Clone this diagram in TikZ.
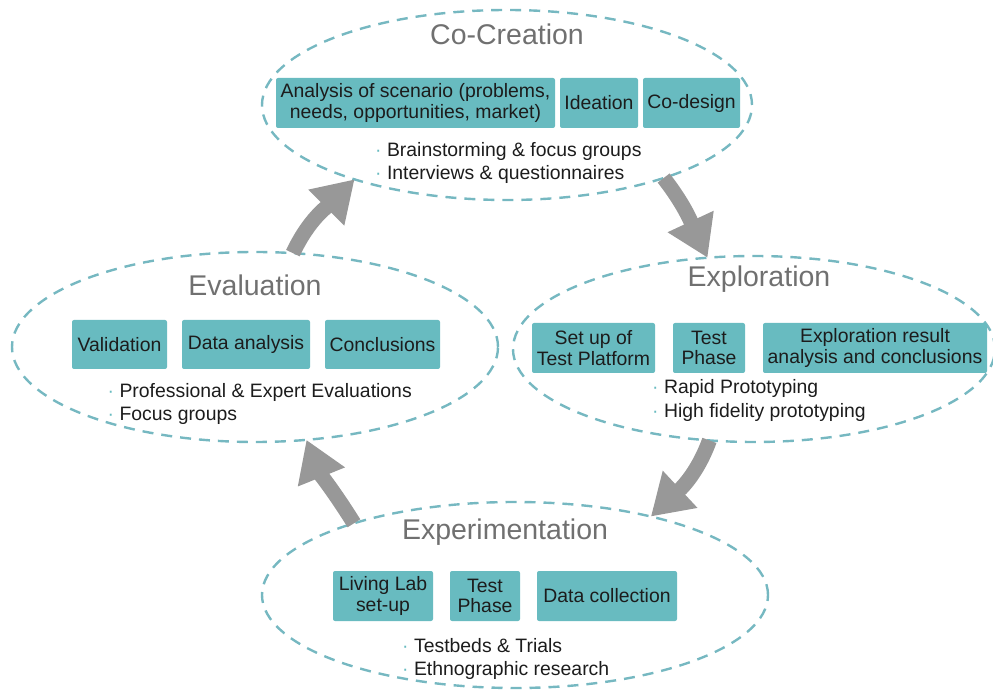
\documentclass[tikz,border=0pt]{standalone}
\usepackage{fontspec}
\setmainfont{Liberation Sans}
\usetikzlibrary{shapes.geometric,arrows.meta}
\definecolor{ringc}{RGB}{118,184,193}
\definecolor{boxc}{RGB}{104,187,192}
\definecolor{titlec}{RGB}{112,112,112}
\definecolor{arrowc}{RGB}{152,152,152}
\definecolor{textc}{RGB}{28,28,28}
\newcommand{\mdot}{\textcolor{boxc}{·}\ }
\begin{document}
\begin{tikzpicture}[x=1pt,y=1pt,
    phase/.style={ellipse,draw=ringc,line width=2.4pt,dash pattern=on 11pt off 8pt,inner sep=0pt,outer sep=0pt},
    phasetitle/.style={anchor=base,text=titlec,font=\fontsize{28.5}{30}\selectfont},
    task/.style={fill=boxc,rounded corners=2pt,minimum height=50pt,inner sep=0pt,align=center,text=textc,font=\fontsize{19.4}{20.5}\selectfont},
    method/.style={anchor=base west,inner sep=0pt,text=textc,font=\fontsize{19.4}{22}\selectfont},
    flow/.style={-{Triangle[width=48pt,length=40pt]},line width=15pt,draw=arrowc}]
    \useasboundingbox (0,0) rectangle (993,691);
    % the four phases
    \node[phase,minimum width=490pt,minimum height=190pt] (cocreation) at (507,586) {};
    \node[phase,minimum width=486pt,minimum height=190pt] (evaluation) at (255,344) {};
    \node[phase,minimum width=482pt,minimum height=186pt] (exploration) at (754,342) {};
    \node[phase,minimum width=506pt,minimum height=186pt] (experimentation) at (515,96) {};
    \node[phasetitle] (cc-t) at (507,646) {Co-Creation};
    \node[phasetitle] (ev-t) at (255,395) {Evaluation};
    \node[phasetitle] (ex-t) at (759,404) {Exploration};
    \node[phasetitle] (xp-t) at (505,151) {Experimentation};
    % co-creation
    \node[task,minimum width=279pt] (cc-a) at (415.5,588) {Analysis of scenario (problems,\\needs, opportunities, market)};
    \node[task,minimum width=78pt] (cc-i) at (599,588) {Ideation};
    \node[task,minimum width=97pt] (cc-d) at (691.5,588) {Co-design};
    \node[method] (cc-m1) at (375,534) {\mdot Brainstorming \& focus groups};
    \node[method] (cc-m2) at (375,511) {\mdot Interviews \& questionnaires};
    % evaluation
    \node[task,minimum width=95pt,minimum height=49pt] (ev-v) at (119.5,346.5) {Validation};
    \node[task,minimum width=128pt,minimum height=49pt] (ev-d) at (246,346.5) {Data analysis};
    \node[task,minimum width=115pt,minimum height=49pt] (ev-c) at (382.5,346.5) {Conclusions};
    \node[method] (ev-m1) at (107.5,293) {\mdot Professional \& Expert Evaluations};
    \node[method] (ev-m2) at (107.5,270) {\mdot Focus groups};
    % exploration
    \node[task,minimum width=123pt] (ex-s) at (593.5,343) {Set up of\\Test Platform};
    \node[task,minimum width=72pt] (ex-p) at (709,343) {Test\\Phase};
    \node[task,minimum width=224pt] (ex-r) at (875,343) {Exploration result\\analysis and conclusions};
    \node[method] (ex-m1) at (652,297) {\mdot Rapid Prototyping};
    \node[method] (ex-m2) at (652,273) {\mdot High fidelity prototyping};
    % experimentation
    \node[task,minimum width=100pt] (xp-l) at (383,95) {Living Lab\\set-up};
    \node[task,minimum width=70pt] (xp-p) at (485,95) {Test\\Phase};
    \node[task,minimum width=140pt] (xp-d) at (607,95) {Data collection};
    \node[method] (xp-m1) at (402,39) {\mdot Testbeds \& Trials};
    \node[method] (xp-m2) at (402,16) {\mdot Ethnographic research};
    % cycle
    \draw[flow] (evaluation.68) to[out=65,in=225] (cocreation.206);
    \draw[flow] (cocreation.-25) to[out=-52,in=115] (exploration.117);
    \draw[flow] (exploration.244) to[out=250,in=43] (experimentation.30);
    \draw[flow] (experimentation.156) to[out=122,in=-68] (evaluation.-61);
\end{tikzpicture}
\end{document}
